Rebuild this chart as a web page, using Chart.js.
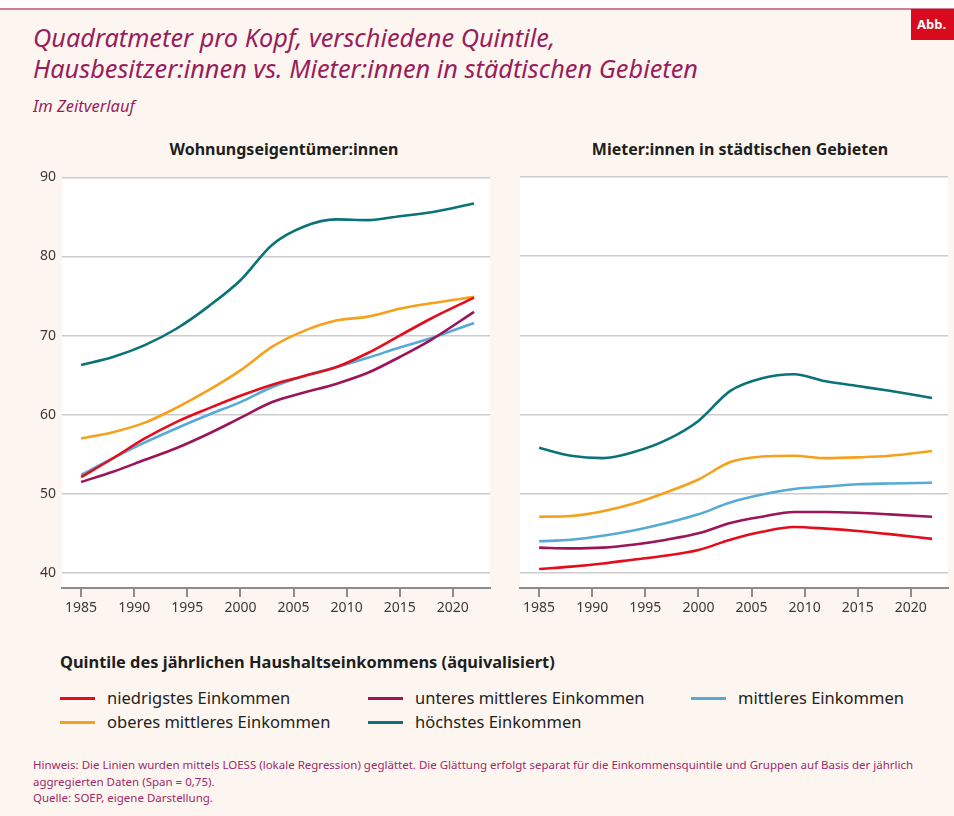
<!DOCTYPE html>
<html>
<head>
<meta charset="utf-8">
<script src="https://cdn.jsdelivr.net/npm/chart.js@4.4.1/dist/chart.umd.min.js"></script>
<style>
  body { margin: 0; width: 954px; height: 816px; background: #fdf6f0; position: relative; overflow: hidden; font-family: "Noto Sans", sans-serif; }
  .topbar { position: absolute; left: 0; top: 0; width: 954px; height: 8px; background: #fff; border-bottom: 2px solid #cf7e9c; }
  .abb { position: absolute; left: 911px; top: 9px; width: 43px; height: 31px; background: #d90a1e; color: #fff; font-weight: bold; font-size: 13px; line-height: 31px; padding-left: 6px; box-sizing: border-box; }
  .title { position: absolute; left: 33px; top: 22px; font-style: italic; font-size: 25.3px; line-height: 31px; color: #9a1d5b; }
  .subtitle { position: absolute; left: 33px; top: 94px; font-style: italic; font-size: 16.5px; color: #9a1d5b; }
  .ptitle { position: absolute; top: 138px; font-weight: bold; font-size: 16px; color: #1e1e1e; transform: translateX(-50%); white-space: nowrap; }
  canvas { position: absolute; }
  .ltitle { position: absolute; left: 60px; top: 650px; font-weight: bold; font-size: 16.4px; color: #1e1e1e; }
  .litem { position: absolute; font-size: 16.5px; color: #222; white-space: nowrap; }
  .litem span.sw { display: inline-block; width: 35px; height: 3px; vertical-align: middle; margin-right: 12px; position: relative; top: -1px; }
  .note { position: absolute; left: 33px; top: 757px; font-size: 11.5px; line-height: 16.5px; color: #a0286a; width: 910px; }
</style>
</head>
<body>
<div class="topbar"></div>
<div class="abb">Abb.</div>
<div class="title">Quadratmeter pro Kopf, verschiedene Quintile,<br>Hausbesitzer:innen vs. Mieter:innen in städtischen Gebieten</div>
<div class="subtitle">Im Zeitverlauf</div>
<div class="ptitle" style="left:284px">Wohnungseigentümer:innen</div>
<div class="ptitle" style="left:740px">Mieter:innen in städtischen Gebieten</div>
<canvas id="left" width="500" height="462" style="left:0;top:168px"></canvas>
<canvas id="right" width="454" height="462" style="left:500px;top:168px"></canvas>
<div class="ltitle">Quintile des jährlichen Haushaltseinkommens (äquivalisiert)</div>
<div id="legend"></div>
<div class="note">Hinweis: Die Linien wurden mittels LOESS (lokale Regression) geglättet. Die Glättung erfolgt separat für die Einkommensquintile und Gruppen auf Basis der jährlich aggregierten Daten (Span = 0,75).<br>Quelle: SOEP, eigene Darstellung.</div>

<script>
// --- data ---
const years = [1985, 1988, 1991, 1994, 1997, 2000, 2003, 2006, 2009, 2012, 2015, 2018, 2022];
const xTicks = [1985, 1990, 1995, 2000, 2005, 2010, 2015, 2020];
const yTicks = [40, 50, 60, 70, 80, 90];

const seriesNames = ['niedrigstes Einkommen', 'unteres mittleres Einkommen', 'mittleres Einkommen', 'oberes mittleres Einkommen', 'höchstes Einkommen'];
const seriesColors = ['#e30d1c', '#9b1558', '#55aad6', '#f5a11c', '#0b7377'];

// Wohnungseigentümer:innen
const eigLow    = [52.1, 54.5, 57.0, 59.1, 60.8, 62.4, 63.8, 64.9, 66.0, 67.8, 70.0, 72.2, 74.8];
const eigLowMid = [51.5, 52.8, 54.3, 55.8, 57.6, 59.6, 61.6, 62.8, 63.9, 65.3, 67.3, 69.5, 73.0];
const eigMid    = [52.4, 54.5, 56.5, 58.3, 60.0, 61.6, 63.5, 64.9, 66.0, 67.2, 68.5, 69.7, 71.6];
const eigUpMid  = [57.0, 57.8, 59.0, 60.9, 63.1, 65.6, 68.6, 70.6, 71.9, 72.4, 73.4, 74.1, 74.9];
const eigHigh   = [66.3, 67.3, 68.8, 70.9, 73.7, 77.0, 81.5, 83.8, 84.7, 84.6, 85.1, 85.6, 86.7];

// Mieter:innen in städtischen Gebieten
const mietLow    = [40.5, 40.8, 41.2, 41.7, 42.2, 42.9, 44.2, 45.2, 45.8, 45.6, 45.3, 44.9, 44.3];
const mietLowMid = [43.2, 43.1, 43.2, 43.6, 44.2, 45.0, 46.3, 47.1, 47.7, 47.7, 47.6, 47.4, 47.1];
const mietMid    = [44.0, 44.2, 44.7, 45.4, 46.3, 47.4, 48.9, 49.9, 50.6, 50.9, 51.2, 51.3, 51.4];
const mietUpMid  = [47.1, 47.2, 47.8, 48.8, 50.2, 51.8, 54.0, 54.7, 54.8, 54.5, 54.6, 54.8, 55.4];
const mietHigh   = [55.8, 54.8, 54.5, 55.3, 56.8, 59.2, 63.0, 64.6, 65.1, 64.2, 63.6, 63.0, 62.1];

const FONT = '"Noto Sans", sans-serif';
const PLOT_TOP = 177;     // page y of the 90 gridline
const PLOT_BOTTOM = 588;  // page y of the x axis line
const X_AXIS_H = 42;

// white plot area behind the lines
const plotBg = {
  id: 'plotBg',
  beforeDraw(chart) {
    const { ctx, chartArea: a } = chart;
    ctx.save();
    ctx.fillStyle = '#ffffff';
    ctx.fillRect(a.left, a.top, a.right - a.left, a.bottom - a.top);
    ctx.restore();
  }
};

function panelConfig(seriesList, opts) {
  return {
    type: 'line',
    data: {
      datasets: seriesList.map((vals, i) => ({
        label: seriesNames[i],
        data: years.map((y, j) => ({ x: y, y: vals[j] })),
        borderColor: seriesColors[i],
        borderWidth: 2.6,
        pointRadius: 0,
        cubicInterpolationMode: 'monotone',
        fill: false,
      })),
    },
    options: {
      responsive: false,
      maintainAspectRatio: false,
      animation: false,
      layout: { padding: { top: 3, right: opts.padRight, left: 0, bottom: 0 } },
      plugins: { legend: { display: false }, tooltip: { enabled: false } },
      scales: {
        x: {
          type: 'linear',
          min: 1983.2,
          max: 2023.5,
          afterBuildTicks: s => { s.ticks = xTicks.map(v => ({ value: v })); },
          afterFit: s => { s.height = X_AXIS_H; },
          grid: { drawOnChartArea: false, drawTicks: true, tickLength: 9, color: '#8c8c8c', lineWidth: 2 },
          border: { display: true, color: '#8c8c8c', width: 2 },
          ticks: { padding: 3, color: '#3a3a3a', font: { family: FONT, size: 14 }, maxRotation: 0, autoSkip: false, callback: v => String(v) },
        },
        y: {
          min: 38.1,
          max: 90,
          afterBuildTicks: s => { s.ticks = yTicks.map(v => ({ value: v })); },
          afterFit: s => { s.width = opts.yWidth; },
          grid: { color: '#cccccc', lineWidth: 1.5, drawTicks: false },
          border: { display: false },
          ticks: { display: opts.showY, padding: 6, color: '#3a3a3a', font: { family: FONT, size: 14 } },
        },
      },
    },
    plugins: [plotBg],
  };
}

function makePanel(canvasId, seriesList, opts) {
  const canvas = document.getElementById(canvasId);
  // first pass: find how far Chart.js puts the plot area below the canvas top
  let chart = new Chart(canvas.getContext('2d'), panelConfig(seriesList, opts));
  const t = chart.chartArea.top;
  chart.destroy();
  // second pass: size/place the canvas so the plot area sits at PLOT_TOP..PLOT_BOTTOM
  canvas.width = opts.width;
  canvas.height = Math.round(PLOT_BOTTOM - PLOT_TOP + t + X_AXIS_H);
  canvas.style.width = opts.width + 'px';
  canvas.style.height = canvas.height + 'px';
  canvas.style.top = (PLOT_TOP - t) + 'px';
  return new Chart(canvas.getContext('2d'), panelConfig(seriesList, opts));
}

makePanel('left', [eigLow, eigLowMid, eigMid, eigUpMid, eigHigh], { width: 500, padRight: 10, yWidth: 62, showY: true });
makePanel('right', [mietLow, mietLowMid, mietMid, mietUpMid, mietHigh], { width: 454, padRight: 6, yWidth: 20, showY: false });

// legend built from the series names / colours
const legendPos = [[60, 686], [368, 686], [691, 686], [60, 710], [368, 710]];
const legendEl = document.getElementById('legend');
seriesNames.forEach((name, i) => {
  const d = document.createElement('div');
  d.className = 'litem';
  d.style.left = legendPos[i][0] + 'px';
  d.style.top = legendPos[i][1] + 'px';
  d.innerHTML = '<span class="sw" style="background:' + seriesColors[i] + '"></span>' + name;
  legendEl.appendChild(d);
});
</script>
</body>
</html>
